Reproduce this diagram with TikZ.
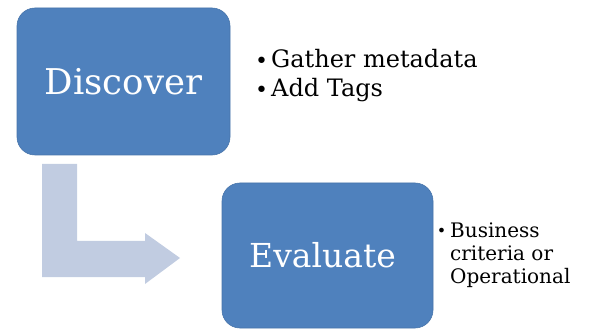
\documentclass[tikz,border=0pt]{standalone}
\usepackage{fontspec}
\setmainfont{DejaVu Serif}
\definecolor{boxblue}{HTML}{4F81BD}
\definecolor{arrowblue}{HTML}{C1CCE1}
\tikzset{
  stagebox/.style={fill=boxblue, draw=boxblue!90!black, line width=0.6pt,
    rounded corners=18pt, text=white, inner sep=0pt},
  notes/.style={anchor=base west, align=left, inner sep=0pt, text=black}
}
\newcommand{\notebullet}[1]{\makebox[#1][l]{\fontsize{22}{22}\selectfont\raisebox{-0.5pt}{•}}}
\begin{document}
\begin{tikzpicture}[x=1pt,y=-1pt]
\useasboundingbox (0,0) rectangle (589,331);

% bent arrow leading from the first stage to the second
\fill[arrowblue] (42,164) -- (77,164) -- (77,241) -- (145,241) -- (145,233)
  -- (180,258) -- (145,284) -- (145,277) -- (42,277) -- cycle;

% stages
\node[stagebox, minimum width=213pt, minimum height=147pt,
  font=\fontsize{35.5}{40}\selectfont] (discover)
  at (123.5,81.5) {\raisebox{-2pt}{Discover}};
\node[stagebox, minimum width=211pt, minimum height=145pt,
  font=\fontsize{33}{38}\selectfont] (evaluate)
  at (327.5,255.5) {Evaluate\kern10pt};

% notes beside each stage (anchored at the baseline of the last line)
\node[notes, font=\fontsize{24}{29}\selectfont] (discnotes) at (255,97)
  {\notebullet{16pt}Gather metadata\\
   \notebullet{16pt}Add Tags};
\node[notes, font=\fontsize{20}{22.5}\selectfont] (evalnotes) at (450,283)
  {\llap{\fontsize{16}{16}\selectfont\raisebox{2pt}{•}\hspace{4pt}}Business\\criteria or\\Operational};
\end{tikzpicture}
\end{document}
